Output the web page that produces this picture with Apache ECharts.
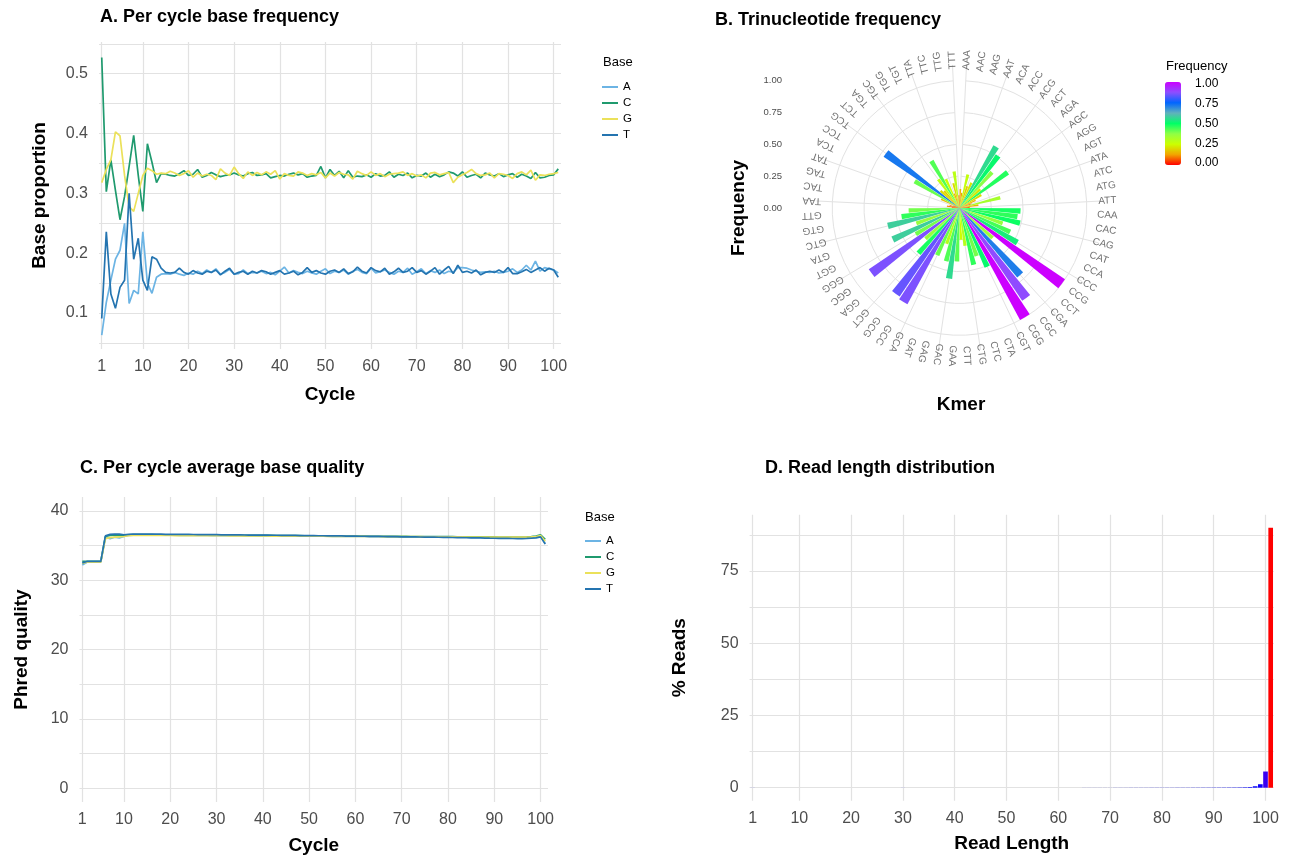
<!DOCTYPE html>
<html><head><meta charset="utf-8">
<script src="https://cdn.jsdelivr.net/npm/echarts@6/dist/echarts.min.js"></script>
<style>html,body{margin:0;padding:0;background:#fff}#c{width:1290px;height:858px}</style>
</head><body><div id="c"></div>
<script>
// ---------- DATA ----------
const cycles = [1,2,3,4,5,6,7,8,9,10,11,12,13,14,15,16,17,18,19,20,21,22,23,24,25,26,27,28,29,30,31,32,33,34,35,36,37,38,39,40,41,42,43,44,45,46,47,48,49,50,51,52,53,54,55,56,57,58,59,60,61,62,63,64,65,66,67,68,69,70,71,72,73,74,75,76,77,78,79,80,81,82,83,84,85,86,87,88,89,90,91,92,93,94,95,96,97,98,99,100,101];
const cycleTicks = [1,10,20,30,40,50,60,70,80,90,100];
const bases = ['A','C','G','T'];

const freqA = [0.063,0.118,0.155,0.19,0.205,0.25,0.116,0.138,0.132,0.236,
 0.15,0.133,0.16,0.165,0.166,0.165,0.168,0.165,0.163,0.167,
 0.165,0.17,0.166,0.172,0.168,0.174,0.165,0.168,0.173,0.165,
 0.166,0.172,0.166,0.168,0.167,0.170,0.166,0.168,0.164,0.170,
 0.177,0.167,0.171,0.168,0.166,0.170,0.167,0.165,0.170,0.174,
 0.166,0.170,0.168,0.172,0.165,0.170,0.173,0.168,0.166,0.175,
 0.167,0.169,0.172,0.168,0.165,0.170,0.168,0.175,0.165,0.169,
 0.174,0.166,0.171,0.168,0.172,0.166,0.170,0.168,0.176,0.176,
 0.175,0.172,0.170,0.168,0.169,0.168,0.170,0.167,0.168,0.170,
 0.174,0.168,0.172,0.180,0.172,0.187,0.170,0.176,0.174,0.172,
 0.167];
const freqC = [0.527,0.303,0.356,0.305,0.256,0.295,0.345,0.397,0.330,0.270,
 0.383,0.352,0.318,0.333,0.332,0.330,0.329,0.333,0.338,0.330,
 0.332,0.340,0.327,0.330,0.335,0.331,0.328,0.330,0.331,0.334,
 0.331,0.329,0.333,0.335,0.330,0.331,0.333,0.326,0.328,0.330,
 0.329,0.332,0.334,0.331,0.333,0.327,0.329,0.330,0.345,0.326,
 0.340,0.330,0.337,0.326,0.338,0.327,0.329,0.328,0.331,0.327,
 0.333,0.329,0.330,0.336,0.327,0.332,0.330,0.334,0.326,0.330,
 0.329,0.334,0.327,0.332,0.328,0.331,0.336,0.334,0.329,0.336,
 0.327,0.330,0.332,0.326,0.334,0.331,0.329,0.333,0.328,0.331,
 0.333,0.327,0.332,0.329,0.325,0.335,0.326,0.327,0.330,0.331,
 0.341];
const freqG = [0.318,0.340,0.356,0.403,0.396,0.330,0.278,0.270,0.300,0.330,
 0.342,0.338,0.332,0.334,0.333,0.337,0.334,0.330,0.333,0.338,
 0.327,0.334,0.329,0.332,0.330,0.323,0.341,0.334,0.330,0.344,
 0.333,0.325,0.336,0.330,0.335,0.331,0.336,0.332,0.338,0.324,
 0.333,0.330,0.329,0.336,0.334,0.330,0.333,0.331,0.335,0.326,
 0.334,0.329,0.335,0.332,0.331,0.324,0.337,0.333,0.330,0.336,
 0.330,0.333,0.328,0.332,0.333,0.334,0.336,0.330,0.333,0.329,
 0.331,0.326,0.334,0.335,0.331,0.333,0.335,0.318,0.327,0.331,
 0.335,0.340,0.333,0.330,0.331,0.334,0.326,0.333,0.332,0.330,
 0.325,0.333,0.336,0.331,0.339,0.322,0.331,0.330,0.332,0.333,
 0.335];
const freqT = [0.091,0.236,0.132,0.108,0.143,0.155,0.300,0.190,0.225,0.155,
 0.138,0.194,0.190,0.175,0.168,0.167,0.168,0.175,0.168,0.165,
 0.171,0.167,0.165,0.170,0.168,0.172,0.164,0.170,0.175,0.165,
 0.168,0.170,0.165,0.170,0.167,0.171,0.169,0.165,0.168,0.171,
 0.165,0.167,0.170,0.164,0.168,0.176,0.168,0.171,0.167,0.165,
 0.170,0.172,0.168,0.174,0.166,0.169,0.177,0.170,0.167,0.176,
 0.171,0.169,0.175,0.165,0.169,0.175,0.168,0.170,0.176,0.168,
 0.171,0.165,0.170,0.176,0.165,0.172,0.178,0.166,0.180,0.168,
 0.170,0.167,0.172,0.164,0.168,0.170,0.168,0.172,0.168,0.176,
 0.166,0.166,0.169,0.173,0.168,0.172,0.176,0.170,0.175,0.172,
 0.160];

const qualA = [32.2,32.6,32.6,32.6,32.6,36.2,36.0,36.2,36.1,36.3,
 36.45,36.5,36.5,36.5,36.5,36.49,36.49,36.49,36.48,36.48,
 36.48,36.47,36.47,36.46,36.46,36.46,36.45,36.45,36.44,36.44,
 36.44,36.43,36.43,36.42,36.42,36.41,36.41,36.41,36.40,36.40,
 36.39,36.39,36.38,36.38,36.38,36.37,36.37,36.36,36.36,36.35,
 36.35,36.34,36.34,36.34,36.33,36.33,36.32,36.32,36.31,36.31,
 36.30,36.30,36.29,36.29,36.28,36.28,36.27,36.27,36.26,36.26,
 36.25,36.25,36.24,36.24,36.23,36.23,36.22,36.22,36.21,36.21,
 36.20,36.20,36.19,36.19,36.18,36.18,36.17,36.17,36.16,36.16,
 36.15,36.15,36.14,36.14,36.13,36.13,36.15,36.18,36.22,36.35,
 35.3];
const qualC = [32.7,32.7,32.7,32.7,32.7,36.3,36.45,36.5,36.5,36.5,
 36.55,36.57,36.57,36.56,36.56,36.56,36.55,36.55,36.55,36.54,
 36.54,36.53,36.53,36.53,36.52,36.52,36.51,36.51,36.50,36.50,
 36.50,36.49,36.49,36.48,36.48,36.47,36.47,36.46,36.46,36.45,
 36.45,36.45,36.44,36.44,36.43,36.43,36.42,36.42,36.41,36.41,
 36.40,36.40,36.39,36.39,36.38,36.38,36.37,36.37,36.36,36.36,
 36.35,36.35,36.34,36.34,36.34,36.33,36.33,36.32,36.32,36.31,
 36.31,36.30,36.30,36.30,36.29,36.29,36.28,36.28,36.28,36.27,
 36.27,36.26,36.26,36.26,36.25,36.25,36.25,36.24,36.24,36.24,
 36.23,36.23,36.23,36.22,36.22,36.23,36.25,36.28,36.35,36.55,
 35.9];
const qualG = [32.4,32.6,32.6,32.6,32.6,36.0,36.15,36.2,36.25,36.3,
 36.42,36.45,36.46,36.46,36.46,36.46,36.45,36.45,36.45,36.45,
 36.44,36.44,36.44,36.43,36.43,36.43,36.42,36.42,36.42,36.41,
 36.41,36.41,36.40,36.40,36.40,36.39,36.39,36.39,36.38,36.38,
 36.38,36.37,36.37,36.37,36.36,36.36,36.36,36.35,36.35,36.35,
 36.34,36.34,36.34,36.33,36.33,36.33,36.32,36.32,36.32,36.31,
 36.31,36.31,36.30,36.30,36.30,36.29,36.29,36.29,36.28,36.28,
 36.28,36.27,36.27,36.27,36.26,36.26,36.26,36.25,36.25,36.25,
 36.24,36.24,36.24,36.23,36.23,36.23,36.22,36.22,36.22,36.21,
 36.21,36.21,36.20,36.20,36.20,36.21,36.22,36.25,36.30,36.45,
 35.6];
const qualT = [32.5,32.7,32.7,32.7,32.7,36.4,36.6,36.65,36.65,36.55,
 36.62,36.66,36.65,36.65,36.64,36.64,36.63,36.63,36.62,36.62,
 36.61,36.61,36.60,36.60,36.59,36.58,36.58,36.57,36.56,36.56,
 36.55,36.55,36.54,36.53,36.53,36.52,36.51,36.51,36.50,36.49,
 36.49,36.48,36.48,36.47,36.46,36.45,36.45,36.44,36.43,36.43,
 36.42,36.41,36.41,36.40,36.39,36.38,36.38,36.37,36.36,36.35,
 36.34,36.34,36.33,36.32,36.31,36.30,36.29,36.28,36.27,36.26,
 36.25,36.25,36.24,36.23,36.22,36.21,36.20,36.19,36.18,36.17,
 36.16,36.15,36.14,36.12,36.11,36.10,36.09,36.08,36.06,36.05,
 36.04,36.03,36.02,36.01,36.00,36.00,36.02,36.05,36.10,36.25,
 35.2];

const kmers = ['AAA','AAC','AAG','AAT','ACA','ACC','ACG','ACT','AGA','AGC','AGG','AGT','ATA','ATC','ATG','ATT',
 'CAA','CAC','CAG','CAT','CCA','CCC','CCG','CCT','CGA','CGC','CGG','CGT','CTA','CTC','CTG','CTT',
 'GAA','GAC','GAG','GAT','GCA','GCC','GCG','GCT','GGA','GGC','GGG','GGT','GTA','GTC','GTG','GTT',
 'TAA','TAC','TAG','TAT','TCA','TCC','TCG','TCT','TGA','TGC','TGG','TGT','TTA','TTC','TTG','TTT'];
const kmerFreq = [0.15,0.12,0.27,0.18,0.22,0.56,0.51,0.38,0.22,0.47,0.20,0.14,0.10,0.33,0.15,0.08,
 0.48,0.46,0.49,0.36,0.44,0.53,1.00,0.35,0.71,0.88,1.00,0.51,0.40,0.46,0.30,0.25,
 0.42,0.56,0.43,0.30,0.41,0.86,0.84,0.48,0.36,0.86,0.40,0.58,0.36,0.58,0.46,0.40,
 0.06,0.10,0.08,0.05,0.16,0.41,0.72,0.20,0.18,0.28,0.43,0.25,0.12,0.20,0.29,0.10];
const freqTicks = [0,0.25,0.5,0.75,1];

const readLen = cycles;
const readPct = [0.02,0.01,0.01,0.01,0.01,0.01,0.01,0.01,0.01,0.01,
 0.01,0.01,0.01,0.01,0.01,0.01,0.01,0.01,0.01,0.01,
 0.01,0.01,0.01,0.01,0.01,0.01,0.01,0.01,0.01,0.02,
 0.01,0.01,0.01,0.01,0.01,0.01,0.01,0.01,0.01,0.01,
 0.01,0.01,0.01,0.01,0.01,0.01,0.01,0.01,0.01,0.01,
 0.01,0.01,0.01,0.01,0.01,0.01,0.01,0.01,0.01,0.01,
 0.01,0.01,0.01,0.01,0.02,0.02,0.02,0.02,0.02,0.02,
 0.03,0.03,0.03,0.04,0.04,0.04,0.04,0.05,0.05,0.05,
 0.05,0.05,0.06,0.06,0.06,0.07,0.07,0.08,0.08,0.09,
 0.09,0.10,0.11,0.12,0.14,0.18,0.25,0.50,1.20,5.60,
 90.0];

// ---------- STYLE ----------
const F = '"Liberation Sans", Arial, sans-serif';
const AX = '#4d4d4d';
const GRID = '#e2e2e2';
const baseColors = {A:'#6cb4e4', C:'#1f9a6e', G:'#ebe15a', T:'#2474b0'};
const kmerColors = ['#ff0000','#f3a400','#ccff00','#90ff45','#00ff66','#61b2bb','#0066ff','#8e4eff','#cc00ff'];
const lenColors = ['#0000ff','#7300e0','#9f00c7','#b800aa','#cc008b','#db006e','#e80050','#f4002c','#ff0000'];

const nameStyle = {fontSize:19, fontWeight:'bold', color:'#000', fontFamily:F};
const lblStyle = {color:AX, fontSize:16, fontFamily:F};

function xCycle(g, name, gap) {
  return {type:'value', gridIndex:g, min:0.4, max:101.6,
    axisLine:{show:false}, axisTick:{show:false, customValues:cycleTicks},
    axisLabel:Object.assign({customValues:cycleTicks, margin:10}, lblStyle),
    splitLine:{show:true, lineStyle:{color:GRID, width:1.2}},
    name:name, nameLocation:'middle', nameGap:gap, nameTextStyle:nameStyle};
}
function yVal(g, min, max, ticks, labels, fmt, name, gap) {
  return {type:'value', gridIndex:g, min:min, max:max,
    axisLine:{show:false}, axisTick:{show:false, customValues:ticks},
    axisLabel:Object.assign({customValues:labels, margin:11, formatter:fmt}, lblStyle),
    splitLine:{show:true, lineStyle:{color:GRID, width:1.2}},
    name:name, nameLocation:'middle', nameGap:gap, nameTextStyle:nameStyle};
}

const freqSeries = {A:freqA, C:freqC, G:freqG, T:freqT};
const qualSeries = {A:qualA, C:qualC, G:qualG, T:qualT};

const series = [];
bases.forEach(b => series.push({name:b, type:'line', xAxisIndex:0, yAxisIndex:0, showSymbol:false,
  color:baseColors[b], lineStyle:{width:1.7, color:baseColors[b]}, silent:true,
  data:cycles.map((c,i)=>[c, freqSeries[b][i]])}));
bases.forEach(b => series.push({name:b, type:'line', xAxisIndex:1, yAxisIndex:1, showSymbol:false,
  color:baseColors[b], lineStyle:{width:1.7, color:baseColors[b]}, silent:true,
  data:cycles.map((c,i)=>[c, qualSeries[b][i]])}));
series.push({name:'len', type:'bar', xAxisIndex:2, yAxisIndex:2, barWidth:'90%', silent:true,
  data:readLen.map((l,i)=>[l, readPct[i]])});                       // index 8
series.push({name:'kmer', type:'bar', coordinateSystem:'polar', polarIndex:0, barCategoryGap:'10%', silent:true,
  data:kmers.map((k,i)=>[kmerFreq[i], i])});                          // index 9
series.push({name:'kmerLabels', type:'scatter', coordinateSystem:'polar', polarIndex:1, symbolSize:0, silent:true,
  data:kmers.map((k,i)=>({name:k, value:[1, i],
    label:{rotate: 90 - (i + 0.5) * 360 / kmers.length}})),
  label:{show:true, formatter:'{b}', position:'inside', align:'center', verticalAlign:'middle',
    color:AX, fontSize:10, fontFamily:F}});                               // index 10

const angleStart = 90 - 180 / kmers.length;

const option = {
  backgroundColor:'#fff',
  animation:false,
  title:[
    {text:'A. Per cycle base frequency', left:100, top:8, padding:0, textStyle:{fontSize:18, fontWeight:'bold', color:'#000', fontFamily:F}},
    {text:'B. Trinucleotide frequency', left:715, top:11, padding:0, textStyle:{fontSize:18, fontWeight:'bold', color:'#000', fontFamily:F}},
    {text:'C. Per cycle average base quality', left:80, top:459, padding:0, textStyle:{fontSize:18, fontWeight:'bold', color:'#000', fontFamily:F}},
    {text:'D. Read length distribution', left:765, top:459, padding:0, textStyle:{fontSize:18, fontWeight:'bold', color:'#000', fontFamily:F}},
    {text:'Base', left:603, top:56, padding:0, textStyle:{fontSize:13, fontWeight:'normal', color:'#000', fontFamily:F}},
    {text:'Base', left:585, top:511, padding:0, textStyle:{fontSize:13, fontWeight:'normal', color:'#000', fontFamily:F}},
    {text:'Frequency', left:1166, top:60, padding:0, textStyle:{fontSize:13, fontWeight:'normal', color:'#000', fontFamily:F}}
  ],
  legend:[
    {data:bases, orient:'vertical', left:602, top:81, padding:0, itemWidth:16, itemHeight:2, itemGap:4, icon:'rect',
     selectedMode:false, textStyle:{fontSize:11.5, color:'#000', fontFamily:F}},
    {data:bases, orient:'vertical', left:585, top:535, padding:0, itemWidth:16, itemHeight:2, itemGap:4, icon:'rect',
     selectedMode:false, textStyle:{fontSize:11.5, color:'#000', fontFamily:F}}
  ],
  grid:[
    {left:99, top:42, width:462, height:307},
    {left:79.5, top:497, width:468.5, height:305},
    {left:749.6, top:514.7, width:524.2, height:286},
    {left:786, top:64.8, width:350, height:286.4},
    {left:1181, top:84, width:1, height:79}
  ],
  xAxis:[
    xCycle(0, 'Cycle', 36),
    xCycle(1, 'Cycle', 34),
    xCycle(2, 'Read Length', 34),
    {type:'value', gridIndex:3, min:0, max:1, show:true, axisLine:{show:false}, axisTick:{show:false}, axisLabel:{show:false},
     splitLine:{show:false}, name:'Kmer', nameLocation:'middle', nameGap:44, nameTextStyle:nameStyle},
    {type:'value', gridIndex:4, show:false}
  ],
  yAxis:[
    yVal(0, 0.04, 0.553, [0.05,0.1,0.15,0.2,0.25,0.3,0.35,0.4,0.45,0.5,0.55], [0.1,0.2,0.3,0.4,0.5], v=>v.toFixed(1), 'Base proportion', 50),
    yVal(1, -2, 42, [0,5,10,15,20,25,30,35,40], [0,10,20,30,40], v=>String(v), 'Phred quality', 48),
    yVal(2, -4.5, 94.5, [0,12.5,25,37.5,50,62.5,75,87.5], [0,25,50,75], v=>String(v), '% Reads', 60),
    {type:'value', gridIndex:3, min:-1.125, max:1.125, axisLine:{show:false}, axisTick:{show:false, customValues:freqTicks},
     axisLabel:{customValues:freqTicks, formatter:v=>v.toFixed(2), color:AX, fontSize:9.5, fontFamily:F, margin:4},
     splitLine:{show:false}, name:'Frequency', nameLocation:'middle', nameGap:38, nameTextStyle:nameStyle},
    {type:'value', gridIndex:4, min:0, max:1, position:'right', axisLine:{show:false},
     axisTick:{show:true, inside:true, length:3, customValues:freqTicks, lineStyle:{color:'#fff', width:1}},
     axisLabel:{customValues:freqTicks, formatter:v=>v.toFixed(2), color:'#000', fontSize:12, fontFamily:F, margin:13},
     splitLine:{show:false}}
  ],
  polar:[
    {center:[959.5, 208], radius:143.2},
    {center:[959.5, 208], radius:148}
  ],
  angleAxis:[
    {polarIndex:0, type:'category', data:kmers, boundaryGap:false, startAngle:angleStart, clockwise:true,
     axisLine:{show:false}, axisTick:{show:false}, axisLabel:{show:false},
     splitLine:{show:true, lineStyle:{color:GRID, width:1}}},
    {polarIndex:1, type:'category', data:kmers, boundaryGap:false, startAngle:angleStart, clockwise:true,
     axisLine:{show:false}, axisTick:{show:false}, axisLabel:{show:false}, splitLine:{show:false}}
  ],
  radiusAxis:[
    {polarIndex:0, min:0, max:1.125, axisLine:{show:false}, axisTick:{show:false, customValues:[0.25,0.5,0.75,1]},
     axisLabel:{show:false}, splitLine:{show:true, lineStyle:{color:GRID, width:1}}},
    {polarIndex:1, min:0, max:1, axisLine:{show:false}, axisTick:{show:false}, axisLabel:{show:false}, splitLine:{show:false}}
  ],
  visualMap:[
    {type:'continuous', seriesIndex:9, dimension:0, min:0, max:1, inRange:{color:kmerColors},
     left:1165, top:82, itemWidth:16, itemHeight:83, calculable:false, showLabel:false, text:null, padding:0, hoverLink:false},
    {type:'continuous', seriesIndex:8, dimension:1, min:0, max:90, inRange:{color:lenColors}, show:false}
  ],
  series:series
};

const chart = echarts.init(document.getElementById('c'), null, {renderer:'canvas'});
chart.setOption(option);
</script>
</body></html>
